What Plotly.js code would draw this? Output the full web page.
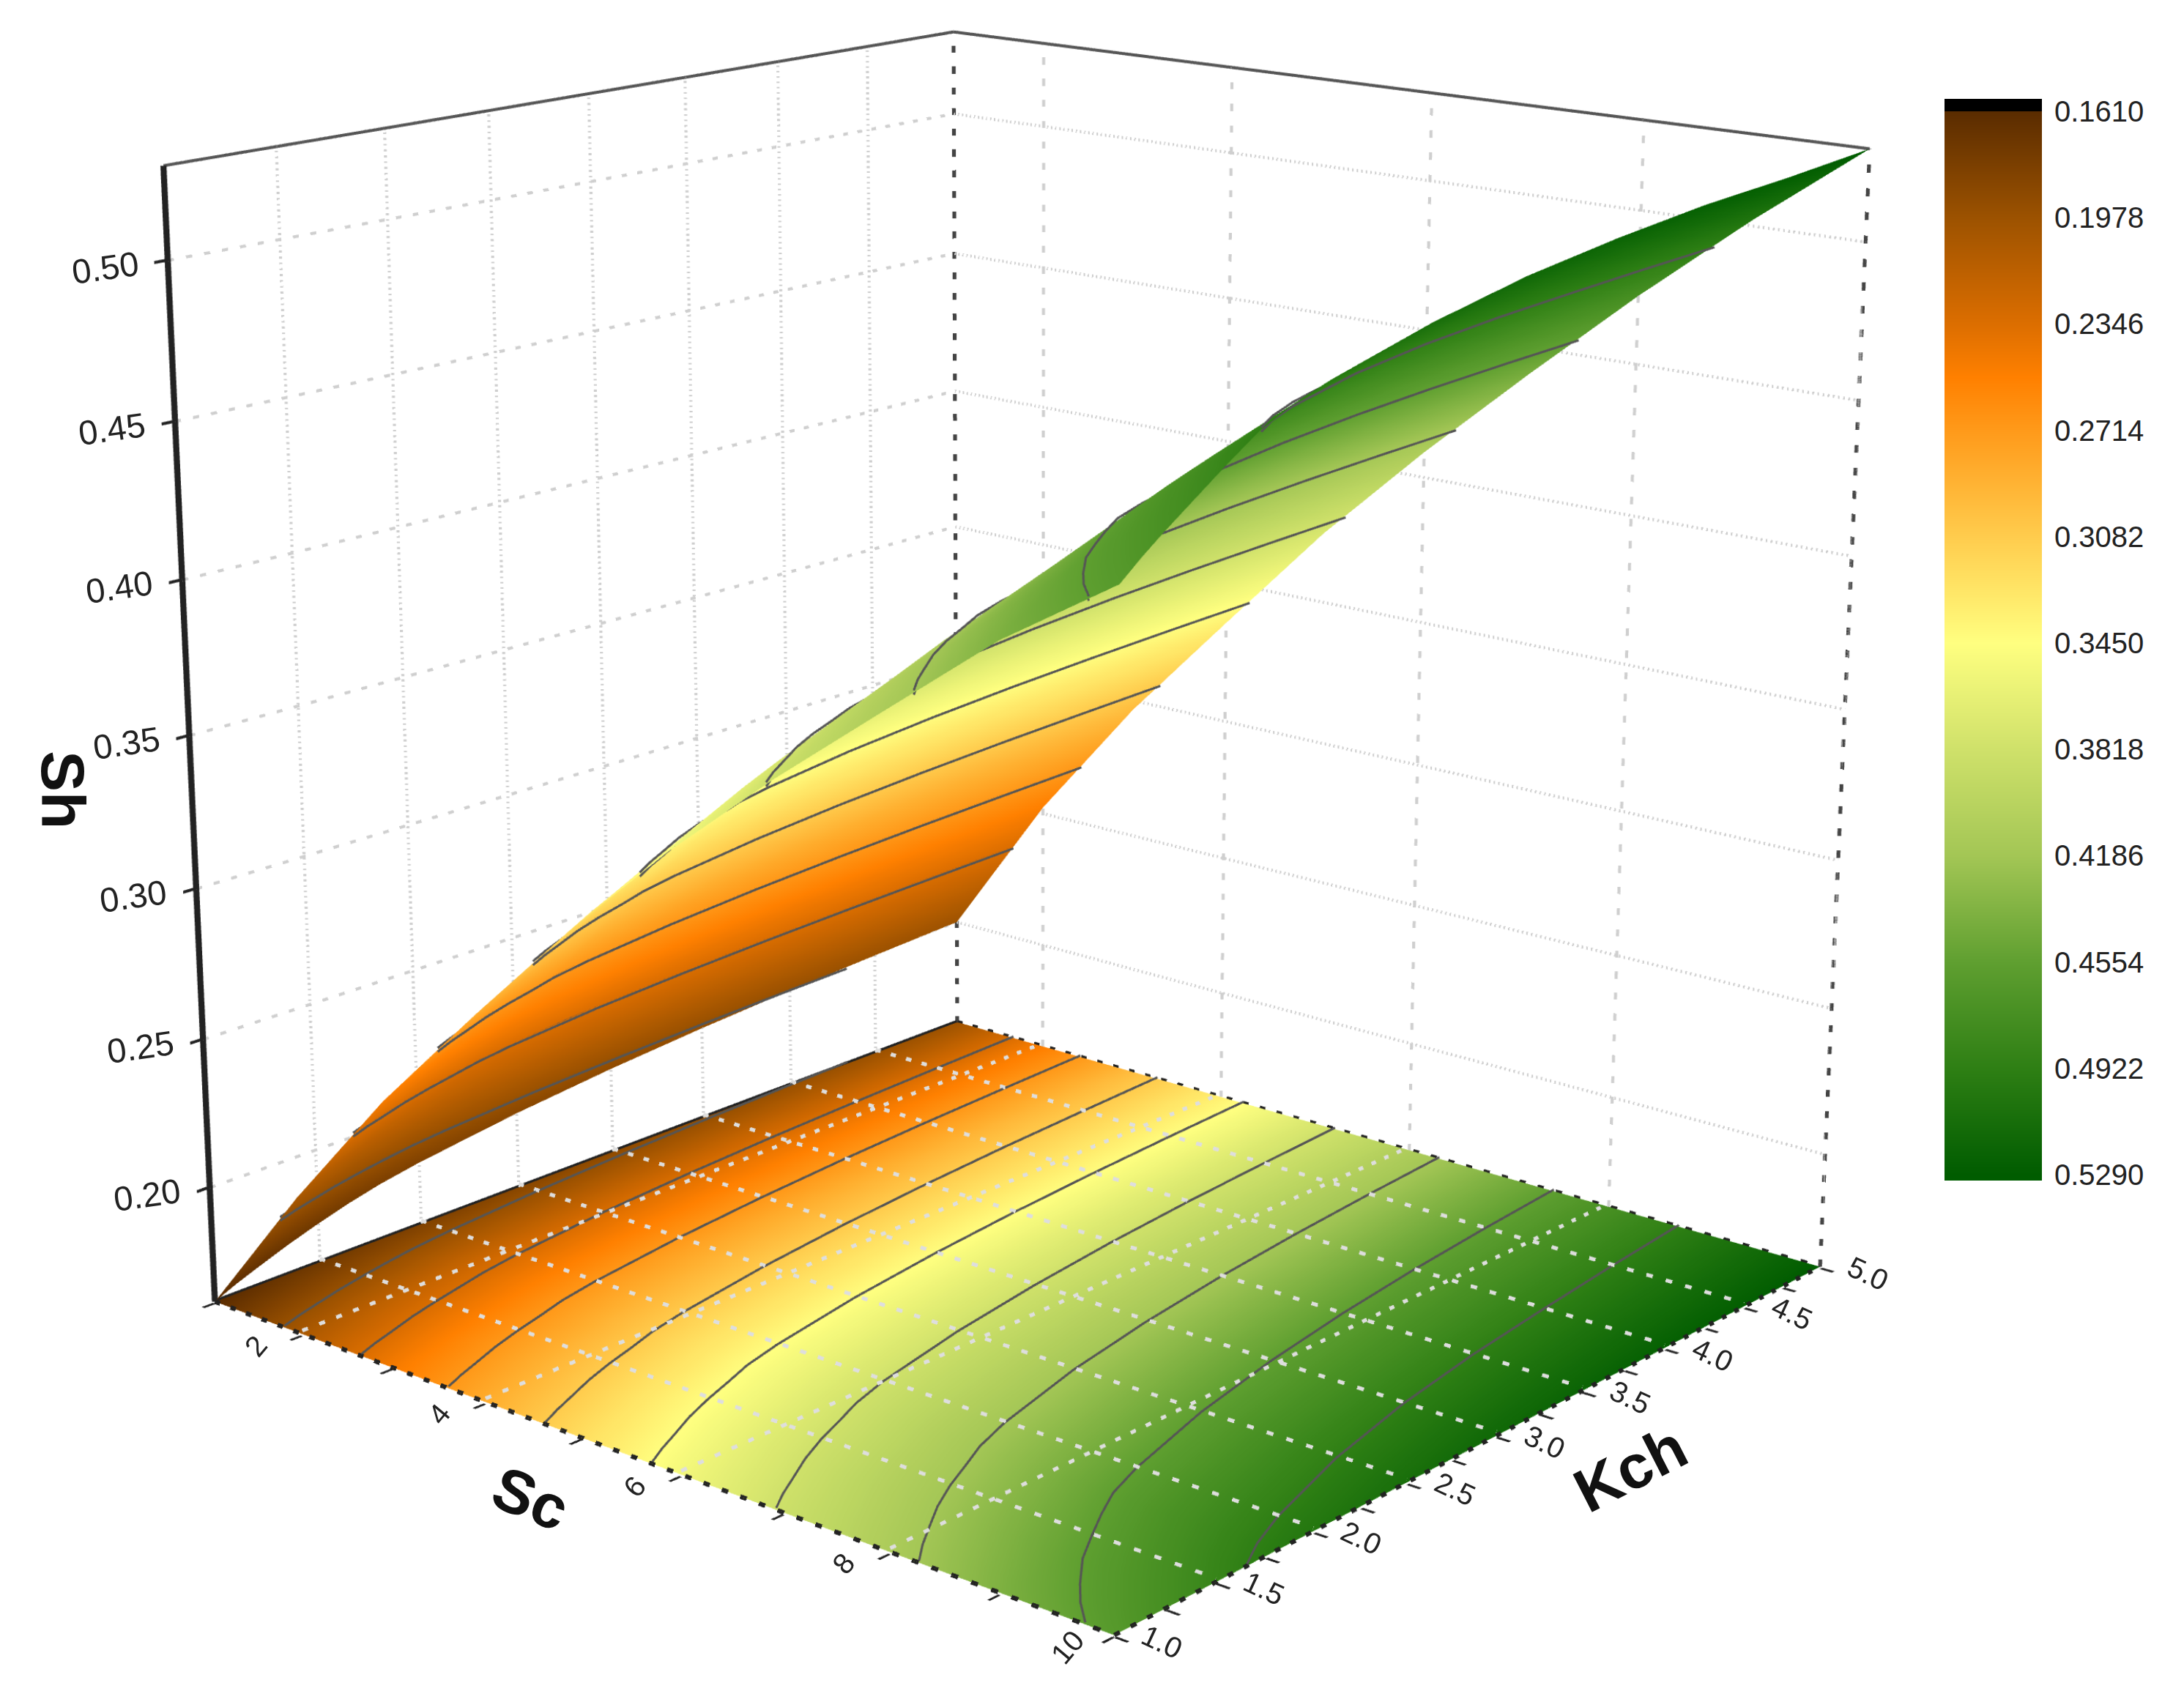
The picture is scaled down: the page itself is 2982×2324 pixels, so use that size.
<!DOCTYPE html>
<html><head><meta charset="utf-8">
<script src="https://cdn.plot.ly/plotly-3.0.1.min.js"></script>
<style>html,body{margin:0;padding:0;background:#fff;width:2982px;height:2324px;overflow:hidden}
#wrap{position:absolute;left:0;top:0;width:2982px;height:2324px;overflow:hidden}
#plot{position:absolute}</style></head>
<body><div id="wrap"><div id="plot"></div></div>
<script>
// ---------- data ----------
const sc = [1,2,3,4,5,6,7,8,9,10];
const kch = [1,1.1,1.2,1.35,1.5,1.65,1.8,2,2.5,3,3.5,4,4.5,5];
const shSc1  = [.161,.1642,.167,.171,.1745,.1776,.1802,.1828,.1877,.1914,.1943,.1966,.1984,.2];
const shSc2  = [.207,.2105,.2134,.2178,.2214,.2246,.2278,.231,.237,.2416,.2452,.248,.2503,.2523];
const shSc3  = [.249,.2523,.2551,.2595,.2632,.2664,.2699,.2733,.2799,.2849,.2888,.2919,.2943,.2965];
const shSc4  = [.286,.2894,.2924,.297,.3009,.3042,.3079,.3115,.3183,.3235,.3275,.3307,.3333,.3355];
const shSc5  = [.3216,.3252,.3284,.3334,.3375,.3411,.3449,.3487,.3559,.3613,.3656,.3689,.3716,.374];
const shSc6  = [.3545,.3583,.3616,.3667,.371,.3747,.3786,.3825,.3899,.3955,.3999,.4034,.4062,.4086];
const shSc7  = [.384,.388,.3915,.3969,.4015,.4054,.4096,.4137,.4214,.4273,.4319,.4355,.4385,.441];
const shSc8  = [.4114,.4157,.4195,.4253,.4302,.4345,.4389,.4432,.4515,.4577,.4626,.4665,.4696,.4723];
const shSc9  = [.4386,.4431,.4471,.4531,.4582,.4636,.4687,.4732,.4817,.4877,.4922,.4957,.4989,.5017];
const shSc10 = [.461,.4665,.4715,.4785,.4855,.492,.4965,.501,.5095,.516,.5205,.524,.5262,.529];
const barTicks = [.161,.1978,.2346,.2714,.3082,.345,.3818,.4186,.4554,.4922,.529];
const contourLevels = [.1978,.2346,.2714,.3082,.345,.3818,.4186,.4554,.4922];
const scMajor = [2,4,6,8,10];
const scAll = [1,2,3,4,5,6,7,8,9,10];
const kchMajor = [1,1.5,2,2.5,3,3.5,4,4.5,5];
const kchAll = [1,1.25,1.5,1.75,2,2.25,2.5,2.75,3,3.25,3.5,3.75,4,4.25,4.5,4.75,5];
const shMajor = [.2,.25,.3,.35,.4,.45,.5];
const scale = [[0,'#5a2c00'],[.1,'#9c5200'],[.2,'#dc6e00'],[.25,'#ff8000'],[.3,'#ff9a1a'],[.4,'#ffcc4d'],[.5,'#ffff80'],[.6,'#cfe16a'],[.7,'#a3c655'],[.8,'#5f9f30'],[.9,'#2e7f14'],[1,'#005c00']];

// ---------- geometry ----------
const S = 5981, left = -1592, top_ = -1983;
const el = document.getElementById('plot');
el.style.left = left+'px'; el.style.top = top_+'px'; el.style.width = S+'px'; el.style.height = S+'px';
const fx = p => (p-left)/S, fy = p => 1-(p-top_)/S;

const zMin = .161, zMax = .529;
const bySc = [shSc1,shSc2,shSc3,shSc4,shSc5,shSc6,shSc7,shSc8,shSc9,shSc10];
const grid = kch.map((_,j)=>bySc.map(c=>c[j]));
const flat = grid.map(r=>r.map(()=>zMin));

function seg(x,y,z,color,width,dash){return {type:'scatter3d',mode:'lines',x,y,z,line:{color,width,dash:dash||'solid'},hoverinfo:'skip',showlegend:false};}
function levelPath(L){
  const xs=[],ys=[];
  const crossSc=j=>{const r=grid[j]; if(L<r[0]||L>r[r.length-1]) return null;
    for(let i=0;i<r.length-1;i++) if(L>=r[i]&&L<=r[i+1]) return sc[i]+(L-r[i])/(r[i+1]-r[i])*(sc[i+1]-sc[i]); return null;};
  for(let j=0;j<kch.length;j++){
    const c=crossSc(j);
    if(c===null && j<kch.length-1 && crossSc(j+1)!==null){
      const col=grid[j+1][0]>L?0:sc.length-1; const a=grid[j][col],b=grid[j+1][col];
      xs.push(sc[col]); ys.push(kch[j]+(L-a)/(b-a)*(kch[j+1]-kch[j]));
    }
    if(c!==null){ xs.push(c); ys.push(kch[j]);
      if(j<kch.length-1 && crossSc(j+1)===null){ const col=grid[j+1][0]>L?0:sc.length-1; const a=grid[j][col],b=grid[j+1][col];
        xs.push(sc[col]); ys.push(kch[j]+(L-a)/(b-a)*(kch[j+1]-kch[j])); }
    }
  }
  return {xs,ys};
}
const wall = '#cfcfcf', floorGrid='#dedede', contourCol='#555555';
const flatLight = {ambient:1,diffuse:0,specular:0,fresnel:0,roughness:1};
const traces = [
 {type:'surface',x:sc,y:kch,z:flat,surfacecolor:grid,colorscale:scale,cmin:zMin,cmax:zMax,showscale:false,hoverinfo:'skip',lighting:flatLight},
 {type:'surface',x:sc,y:kch,z:grid,colorscale:scale,cmin:zMin,cmax:zMax,showscale:false,hoverinfo:'skip',lighting:flatLight}
];
contourLevels.forEach(L=>{
  const p=levelPath(L);
  traces.push(seg(p.xs,p.ys,p.xs.map(()=>zMin+.0006),contourCol,3));
  traces.push(seg(p.xs,p.ys,p.xs.map(()=>L+.0006),contourCol,3));
  traces.push(seg(p.xs,p.ys,p.xs.map(()=>L-.0006),contourCol,3));
});
const fz = zMin+.0012;
kchMajor.slice(1,-1).forEach(k=>{traces.push(seg([1,1],[k,k],[zMin,zMax],wall,4,'dot'));
  traces.push(seg([1,10],[k,k],[fz,fz],floorGrid,5,'dash'));});
scMajor.forEach(s=>{ if(s<10) traces.push(seg([s,s],[1,5],[fz,fz],floorGrid,5,'dash'));
  traces.push(seg([s,s],[5,5],[zMin,zMax],wall,4,'dash'));});
shMajor.forEach(v=>{traces.push(seg([1,1],[1,5],[v,v],wall,4,'dash'));traces.push(seg([1,10],[5,5],[v,v],wall,4,'dot'));});
traces.push(seg([1,1],[1,1],[zMin,zMax],'#222',8));
traces.push(seg([1,1],[5,5],[zMin,zMax],'#444',5,'dash'));
traces.push(seg([10,10],[5,5],[zMin,zMax],'#444',5,'dash'));
traces.push(seg([1,1],[1,5],[zMax,zMax],'#555',4));
traces.push(seg([1,10],[5,5],[zMax,zMax],'#555',4));
traces.push(seg([1,10],[1,1],[zMin,zMin],'#222',6,'dash'));
traces.push(seg([10,10],[1,5],[zMin,zMin],'#222',6,'dash'));
traces.push(seg([1,1],[1,5],[zMin,zMin],'#222',6));
traces.push(seg([1,10],[5,5],[zMin,zMin],'#222',6,'dash'));
// colour bar
const barY = barTicks.concat([.531]);
traces.push({type:'heatmap',xaxis:'x',yaxis:'y',x:[0,1],y:barY,z:barY.map(v=>[v,v]),zsmooth:'best',colorscale:scale,zmin:zMin,zmax:zMax,showscale:false,hoverinfo:'skip'});

const tickFont = {family:'Liberation Sans, Arial, sans-serif',size:40,color:'#222'};
const zFont = {family:'Liberation Sans, Arial, sans-serif',size:47,color:'#222'};
const titleFont = {family:'Liberation Sans, Arial, sans-serif',size:84,color:'#111',weight:700};
const ann = [];
const A=(x,y,z,text,angle,xs,ys,font)=>ann.push({x,y,z,text,textangle:angle,xshift:xs,yshift:ys,showarrow:false,font:font||tickFont});
shMajor.forEach(v=>A(1,1,v,v.toFixed(2),-8,-86,-10,zFont));
scMajor.forEach(s=>A(s,1,zMin,String(s),-50,-64,-16));
kchMajor.forEach(k=>A(10,k,zMin,k.toFixed(1),25,66,-9));
A(1,1,.355,'Sh',90,-171,-95,titleFont);
A(5,1,zMin,'Sc',22,-70,-83,titleFont);
A(10,3,zMin,'Kch',-27,184,-45,titleFont);

const hidden = {showgrid:false,zeroline:false,showline:false,showbackground:false,showticklabels:false,showspikes:false,title:{text:''}};
const tk = {ticks:'outside',ticklen:8,tickwidth:4,tickcolor:'#222'};
const layout = {
 width:S,height:S,margin:{l:0,r:0,t:0,b:0},paper_bgcolor:'#fff',showlegend:false,
 scene:{domain:{x:[0,1],y:[0,1]},aspectmode:'manual',aspectratio:{x:.993,y:.956,z:.975},
  camera:{eye:{x:2.746,y:-3.204,z:1.21},center:{x:0,y:0,z:0},up:{x:.0033,y:.0029,z:1},projection:{type:'perspective'}},
  xaxis:Object.assign({},hidden,tk,{range:[.99,10.01],tickvals:scAll}),
  yaxis:Object.assign({},hidden,tk,{range:[.996,5.004],tickvals:kchAll}),
  zaxis:Object.assign({},hidden,tk,{range:[.1605,.5295],tickvals:shMajor}),
  annotations:ann},
 xaxis:{domain:[fx(2655),fx(2788)],range:[0,1],visible:false,fixedrange:true,anchor:'y'},
 yaxis:{domain:[fy(1612),fy(152)],range:[.531,.161],side:'right',anchor:'x',tickvals:barTicks,ticktext:barTicks.map(v=>v.toFixed(4)),
   ticks:'',showgrid:false,zeroline:false,showline:false,tickfont:{family:'Liberation Sans, Arial, sans-serif',size:40,color:'#222'},ticklabelstandoff:16,fixedrange:true},
 shapes:[{type:'rect',xref:'paper',yref:'paper',x0:fx(2655),x1:fx(2788),y0:fy(152),y1:fy(135),fillcolor:'#000',line:{width:0}}]
};
Plotly.newPlot(el,traces,layout,{displayModeBar:false});
</script></body></html>
